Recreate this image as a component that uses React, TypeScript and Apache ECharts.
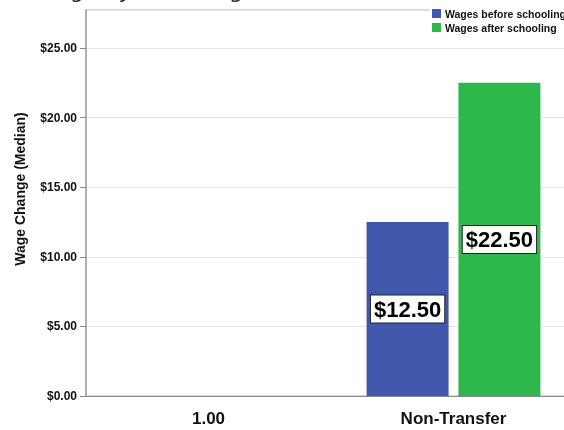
import React, { useEffect, useRef } from "react";
import * as echarts from "echarts";

const categories = ["1.00", "Non-Transfer"];
const seriesNames = ["Wages before schooling", "Wages after schooling"];
const wagesBefore: (number | null)[] = [null, 12.5];
const wagesAfter: (number | null)[] = [null, 22.5];
const yMax = 27.73;
const yInterval = 5;

const FONT = "'Liberation Sans', Arial, sans-serif";

export default function App() {
  const ref = useRef<HTMLDivElement>(null);
  useEffect(() => {
    document.body.style.margin = "0";
    const chart = echarts.init(ref.current!, undefined, { renderer: "svg" });
    const barLabel = {
      show: true,
      position: "inside" as const,
      formatter: (p: any) => "$" + Number(p.value).toFixed(2),
      color: "#000",
      fontFamily: FONT,
      fontWeight: "bold" as const,
      fontSize: 22,
      backgroundColor: "#fff",
      borderColor: "#222",
      borderWidth: 1,
      padding: [3, 3, 2, 3],
    };
    chart.setOption({
      animation: false,
      textStyle: { fontFamily: FONT },
      grid: {
        left: 86,
        width: 490,
        top: 10,
        bottom: 34,
        outerBoundsMode: "none",
        containLabel: false,
        show: true,
        borderColor: "#b0b0b0",
        borderWidth: 1,
      },
      legend: {
        data: seriesNames,
        orient: "vertical",
        left: 430,
        top: 7,
        icon: "rect",
        itemWidth: 9,
        itemHeight: 9,
        itemGap: 3,
        padding: [1, 0, 1, 2],
        backgroundColor: "#fff",
        textStyle: {
          fontFamily: FONT,
          fontSize: 10.5,
          fontWeight: "bold",
          color: "#111",
          padding: [0, 0, 0, -1],
        },
      },
      xAxis: {
        type: "category",
        data: categories,
        axisLine: { lineStyle: { color: "#8a8a8a", width: 1 } },
        axisTick: { alignWithLabel: true, length: 10, lineStyle: { color: "#666" } },
        axisLabel: {
          fontFamily: FONT,
          fontWeight: "bold",
          fontSize: 17,
          color: "#111",
          margin: 14,
        },
        splitLine: { show: false },
      },
      yAxis: {
        type: "value",
        min: 0,
        max: yMax,
        interval: yInterval,
        axisLine: { show: true, lineStyle: { color: "#a0a0a0", width: 1.5 } },
        axisTick: { show: true, length: 6, lineStyle: { color: "#888" } },
        axisLabel: {
          fontFamily: FONT,
          fontWeight: "bold",
          fontSize: 12,
          color: "#111",
          margin: 9,
          showMaxLabel: false,
          formatter: (v: number) =>
            Math.abs(v / yInterval - Math.round(v / yInterval)) < 1e-6
              ? "$" + v.toFixed(2)
              : "",
        },
        splitLine: { lineStyle: { color: "#e4e4e4", width: 1 } },
      },
      series: [
        {
          name: seriesNames[0],
          type: "bar",
          data: wagesBefore,
          barWidth: 82,
          barGap: "12%",
          itemStyle: { color: "#3F58AC" },
          label: barLabel,
        },
        {
          name: seriesNames[1],
          type: "bar",
          data: wagesAfter,
          barWidth: 82,
          barGap: "12%",
          itemStyle: { color: "#2EB84B" },
          label: barLabel,
        },
      ],
      graphic: [
        {
          type: "text",
          x: 20,
          y: 189,
          rotation: Math.PI / 2,
          style: {
            text: "Wage Change (Median)",
            fontFamily: FONT,
            fontWeight: "bold",
            fontSize: 14,
            fill: "#111",
            align: "center",
            verticalAlign: "middle",
          },
        },
        {
          type: "text",
          x: 250,
          y: 1,
          style: {
            text: "Wage change by schooling.",
            fontFamily: "'DejaVu Sans', sans-serif",
            fontSize: 22,
            fill: "#222",
            align: "right",
            verticalAlign: "bottom",
          },
        },
      ],
    });
    return () => chart.dispose();
  }, []);
  return (
    <div
      ref={ref}
      style={{ position: "fixed", left: 0, top: 0, width: 564, height: 430 }}
    />
  );
}
